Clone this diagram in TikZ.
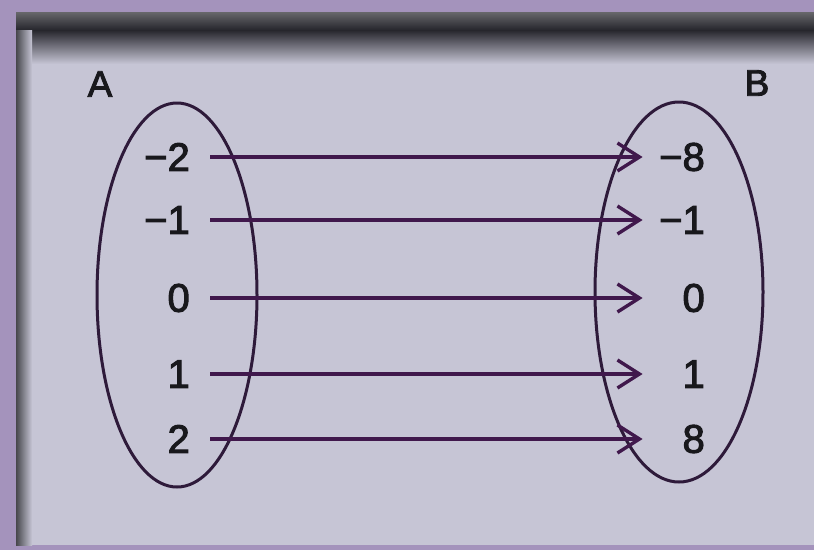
\documentclass[tikz,border=0pt]{standalone}
\usepackage{fontspec}
\setmainfont{Liberation Sans}
\newfontfamily\numfont{Liberation Sans}[FakeBold=2.5]
\usetikzlibrary{arrows.meta}
\definecolor{frame}{HTML}{A493BC}
\definecolor{panel}{HTML}{C6C5D5}
\definecolor{shadow}{HTML}{26262C}
\definecolor{arrowc}{HTML}{40184C}
\definecolor{ellc}{HTML}{2E1A3A}
\definecolor{ink}{HTML}{18181C}
\begin{document}
\begin{tikzpicture}[x=1pt,y=-1pt,
  num/.style={inner sep=0pt,text=ink,font=\numfont\fontsize{40}{46}\selectfont},
  lnum/.style={num,anchor=east},
  rnum/.style={num,anchor=east,text width=58pt,align=right},
  setlabel/.style={num,font=\numfont\fontsize{37}{42}\selectfont},
  setell/.style={draw=ellc,line width=3pt},
  maparrow/.style={draw=arrowc,line width=3.4pt,
    -{Straight Barb[length=22pt,width=28pt,line width=3.4pt]},
    shorten <=20pt,shorten >=4pt}]
\useasboundingbox (0,0) rectangle (814,550);
% photo background
\fill[frame] (0,0) rectangle (814,550);
\fill[panel] (16,12) rectangle (814,545);
\shade[top color=shadow!70,bottom color=shadow] (16,12) rectangle (814,30);
\shade[top color=shadow,bottom color=panel] (16,30) rectangle (814,64);
\shade[left color=shadow!85,right color=panel] (16,30) rectangle (32,545);
% sets
\node[setlabel] (A) at (100,84) {A};
\node[setlabel] (B) at (757,83) {B};
\draw[setell] (177,295) ellipse [x radius=80, y radius=192];
\draw[setell] (679,292) ellipse [x radius=84, y radius=190];
% elements of A
\node[lnum] (a1) at (190,157) {\char"2212 2};
\node[lnum] (a2) at (190,220) {\char"2212 1};
\node[lnum] (a3) at (190,298) {0};
\node[lnum] (a4) at (190,374) {1};
\node[lnum] (a5) at (190,439) {2};
% elements of B
\node[rnum] (b1) at (705,157) {\char"2212 8};
\node[rnum] (b2) at (705,220) {\char"2212 1};
\node[rnum] (b3) at (705,298) {0};
\node[rnum] (b4) at (705,374) {1};
\node[rnum] (b5) at (705,439) {8};
% mapping
\draw[maparrow] (a1) -- (b1);
\draw[maparrow] (a2) -- (b2);
\draw[maparrow] (a3) -- (b3);
\draw[maparrow] (a4) -- (b4);
\draw[maparrow] (a5) -- (b5);
\end{tikzpicture}
\end{document}
